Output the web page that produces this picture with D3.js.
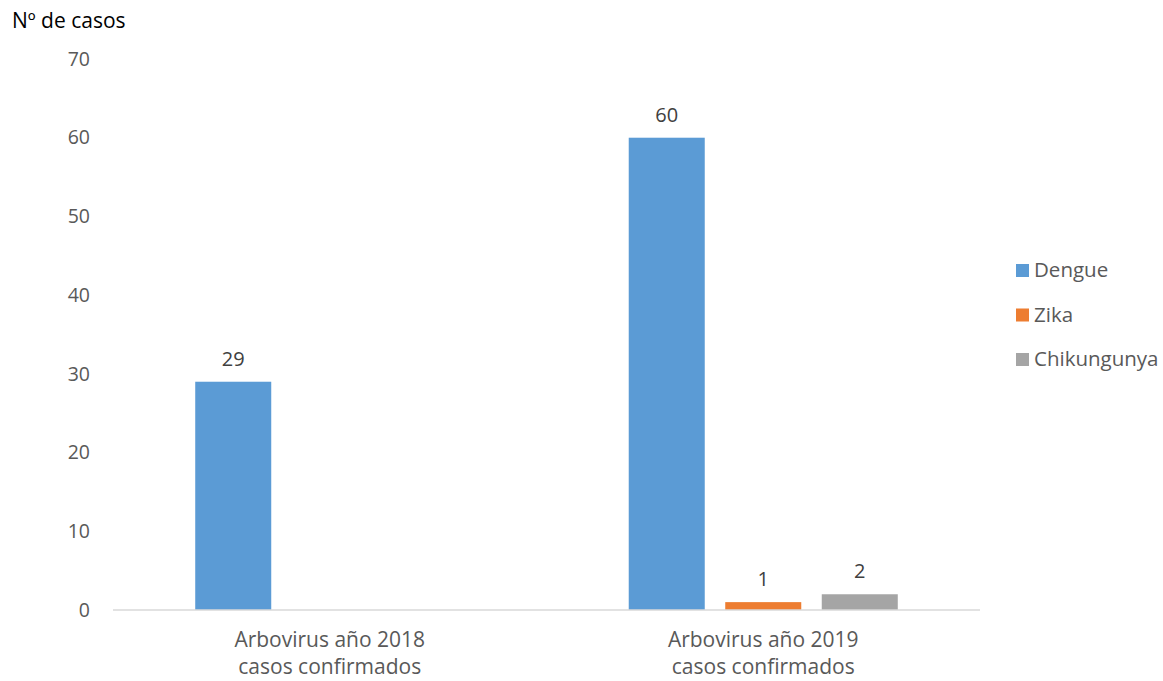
<!DOCTYPE html>
<html>
<head>
<meta charset="utf-8">
<script src="https://cdn.jsdelivr.net/npm/d3@7"></script>
<style>
  html, body { margin: 0; padding: 0; background: #fff; }
  svg { display: block; font-family: "Open Sans", "Noto Sans", sans-serif; }
</style>
</head>
<body>
<svg id="chart" width="1163" height="681"></svg>
<script>
// Confirmed arbovirus cases by year
const categories = [["Arbovirus año 2018", "casos confirmados"], ["Arbovirus año 2019", "casos confirmados"]];
const seriesNames = ["Dengue", "Zika", "Chikungunya"];
const dengue = [29, 60];
const zika = [null, 1];
const chikungunya = [null, 2];
const yTicks = [0, 10, 20, 30, 40, 50, 60, 70];
const colors = ["#5B9BD5", "#ED7D31", "#A5A5A5"];

const seriesValues = [dengue, zika, chikungunya];
const svg = d3.select("#chart");
const fontFamily = "'Open Sans', 'Noto Sans', sans-serif";

const plot = { left: 113, right: 980, top: 59, bottom: 610 };
const catKeys = categories.map((c, i) => i);

const x0 = d3.scaleBand().domain(catKeys).range([plot.left, plot.right]).paddingInner(0).paddingOuter(0);
const x1 = d3.scaleBand().domain(seriesNames).range([0, x0.bandwidth()]).paddingInner(0.2124).paddingOuter(0.852);
const y = d3.scaleLinear().domain([0, 70]).range([plot.bottom, plot.top]);

// Y axis tick labels
const yAxis = d3.axisLeft(y).tickValues(yTicks).tickSize(0).tickPadding(0).tickFormat(d3.format("d"));
const gy = svg.append("g").attr("transform", `translate(${plot.left - 23},0)`).call(yAxis);
gy.select(".domain").remove();
gy.selectAll("text").attr("fill", "#595959").style("font-size", "19.5px").style("font-family", fontFamily);

// Axis title
svg.append("text").attr("x", 12).attr("y", 28).attr("fill", "#000")
  .style("font-size", "21px").text("Nº de casos");

// Bars
const groups = svg.append("g").selectAll("g").data(catKeys).join("g")
  .attr("transform", d => `translate(${x0(d)},0)`);

groups.each(function (ci) {
  const g = d3.select(this);
  const data = seriesNames.map((name, si) => ({ name, si, v: seriesValues[si][ci] }))
    .filter(d => d.v !== null);
  g.selectAll("rect").data(data).join("rect")
    .attr("x", d => x1(d.name))
    .attr("y", d => y(d.v))
    .attr("width", x1.bandwidth())
    .attr("height", d => y(0) - y(d.v))
    .attr("fill", d => colors[d.si]);
  g.selectAll("text.val").data(data).join("text").attr("class", "val")
    .attr("x", d => x1(d.name) + x1.bandwidth() / 2)
    .attr("y", d => y(d.v) - 16)
    .attr("text-anchor", "middle").attr("fill", "#404040")
    .style("font-size", "20px").text(d => d.v);
});

// X axis line
svg.append("line").attr("x1", plot.left).attr("x2", plot.right)
  .attr("y1", y(0)).attr("y2", y(0)).attr("stroke", "#D9D9D9").attr("stroke-width", 1.5);

// Category labels
const xl = svg.append("g").selectAll("text").data(catKeys).join("text")
  .attr("text-anchor", "middle").attr("fill", "#595959").style("font-size", "21px");
xl.each(function (d) {
  const t = d3.select(this);
  categories[d].forEach((line, i) => {
    t.append("tspan").attr("x", x0(d) + x0.bandwidth() / 2).attr("y", 647 + i * 27).text(line);
  });
});

// Legend
const legend = svg.append("g").selectAll("g").data(seriesNames).join("g")
  .attr("transform", (d, i) => `translate(1016,${270 + i * 44.5})`);
legend.append("rect").attr("x", 0).attr("y", -6).attr("width", 13).attr("height", 13)
  .attr("fill", (d, i) => colors[i]);
legend.append("text").attr("x", 18).attr("y", 0).attr("dy", "0.35em")
  .attr("fill", "#595959").style("font-size", "20.5px").text(d => d);
</script>
</body>
</html>
